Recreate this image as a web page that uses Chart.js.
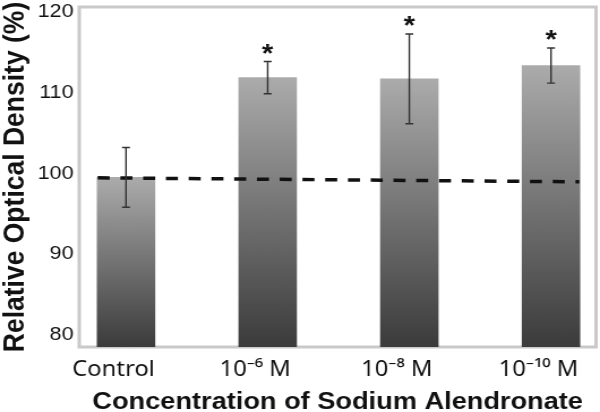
<!DOCTYPE html>
<html>
<head>
<meta charset="utf-8">
<script src="https://cdn.jsdelivr.net/npm/chart.js@4.4.1/dist/chart.umd.min.js"></script>
<style>
  html, body { margin: 0; padding: 0; background: #fff; overflow: hidden; }
  /* the figure is a little wider than it is drawn, so stretch it sideways */
  #wrap { width: 530px; height: 412px; transform: scaleX(1.1321); transform-origin: 0 0; }
</style>
</head>
<body>
<div id="wrap"><canvas id="chart" width="530" height="412"></canvas></div>
<script>
// Relative optical density per alendronate concentration
var categories = ['Control', '10\u207B\u2076 M', '10\u207B\u2078 M', '10\u207B\u00B9\u2070 M'];
var means = [99.5, 111.85, 111.7, 113.35];
var errors = [3.7, 2.0, 5.55, 2.18];
var stars = ['', '*', '*', '*'];
var yTicks = [80, 90, 100, 110, 120];
// dashed control level line
var controlLineX = [-0.2, 3.2];
var controlLineY = [99.45, 98.95];

var barPoints = means.map(function(v, i) { return { x: i, y: v }; });
var linePoints = controlLineX.map(function(x, i) { return { x: x, y: controlLineY[i] }; });

function barGradient(c) {
  var chart = c.chart, area = chart.chartArea;
  if (!area || !c.parsed) return '#888';
  var top = chart.scales.y.getPixelForValue(c.parsed.y);
  var g = chart.ctx.createLinearGradient(0, top, 0, area.bottom);
  g.addColorStop(0, '#ababab');
  g.addColorStop(1, '#3b3b3b');
  return g;
}

// plot frame on all four sides
var framePlugin = {
  id: 'frame',
  beforeDatasetsDraw: function(chart) {
    var a = chart.chartArea, ctx = chart.ctx;
    ctx.save();
    ctx.strokeStyle = '#c9c9c9';
    ctx.lineWidth = 3;
    ctx.strokeRect(a.left, a.top, a.right - a.left, a.bottom - a.top);
    ctx.restore();
  }
};

// error bars and significance stars
var errorPlugin = {
  id: 'errors',
  afterDatasetsDraw: function(chart) {
    var meta = chart.getDatasetMeta(0), y = chart.scales.y, ctx = chart.ctx;
    ctx.save();
    meta.data.forEach(function(bar, i) {
      var hi = y.getPixelForValue(means[i] + errors[i]);
      var lo = y.getPixelForValue(means[i] - errors[i]);
      ctx.strokeStyle = '#333';
      ctx.lineWidth = 1.4;
      ctx.beginPath();
      ctx.moveTo(bar.x, hi); ctx.lineTo(bar.x, lo);
      ctx.moveTo(bar.x - 3.5, hi); ctx.lineTo(bar.x + 3.5, hi);
      ctx.moveTo(bar.x - 3.5, lo); ctx.lineTo(bar.x + 3.5, lo);
      ctx.stroke();
      if (stars[i]) {
        ctx.fillStyle = '#111';
        ctx.font = 'bold 26px "Liberation Sans", Arial, sans-serif';
        ctx.textAlign = 'center';
        ctx.textBaseline = 'alphabetic';
        ctx.fillText(stars[i], bar.x, hi);
      }
    });
    ctx.restore();
  }
};

new Chart(document.getElementById('chart'), {
  type: 'bar',
  data: {
    datasets: [{
      type: 'bar',
      data: barPoints,
      backgroundColor: barGradient,
      borderWidth: 0,
      barThickness: 51,
      order: 1
    }, {
      type: 'line',
      data: linePoints,
      borderColor: '#111',
      borderWidth: 3.5,
      borderDash: [10.6, 9.5],
      pointRadius: 0,
      fill: false,
      order: 0
    }]
  },
  options: {
    responsive: false, animation: false,
    layout: { padding: { top: 7, right: 3.5, left: 0, bottom: 0 } },
    plugins: { legend: { display: false }, tooltip: { enabled: false } },
    scales: {
      x: {
        type: 'linear', min: -0.33, max: 3.318, offset: false,
        grid: { display: false, drawTicks: false },
        border: { display: false },
        afterBuildTicks: function(s) { s.ticks = categories.map(function(c, i) { return { value: i }; }); },
        afterFit: function(s) { s.height = 65; s.paddingLeft = 0; s.paddingRight = 0; },
        ticks: {
          color: '#111', padding: 10, labelOffset: -11, maxRotation: 0, autoSkip: false,
          font: { family: '"Noto Sans", "Liberation Sans", sans-serif', size: 21 },
          callback: function(v) { return categories[v]; }
        },
        title: {
          display: true, text: 'Concentration of Sodium Alendronate', color: '#111',
          padding: { top: 0, bottom: 0 },
          font: { family: '"Liberation Sans", Arial, sans-serif', size: 24, weight: 'bold', lineHeight: 0.8 }
        }
      },
      y: {
        min: 78.5, max: 120.6,
        grid: { display: false, drawTicks: false },
        border: { display: false },
        afterBuildTicks: function(s) { s.ticks = yTicks.map(function(v) { return { value: v }; }); },
        afterFit: function(s) { s.width = 70; s.paddingTop = 0; s.paddingBottom = 0; },
        ticks: {
          color: '#111', padding: 5,
          font: { family: '"Liberation Sans", Arial, sans-serif', size: 19 }
        },
        title: {
          display: true, text: 'Relative Optical Density (%)', color: '#111',
          padding: { top: 0, bottom: 0 },
          font: { family: '"Liberation Sans", Arial, sans-serif', size: 26.5, weight: 'bold', lineHeight: 1 }
        }
      }
    }
  },
  plugins: [framePlugin, errorPlugin]
});
</script>
</body>
</html>
